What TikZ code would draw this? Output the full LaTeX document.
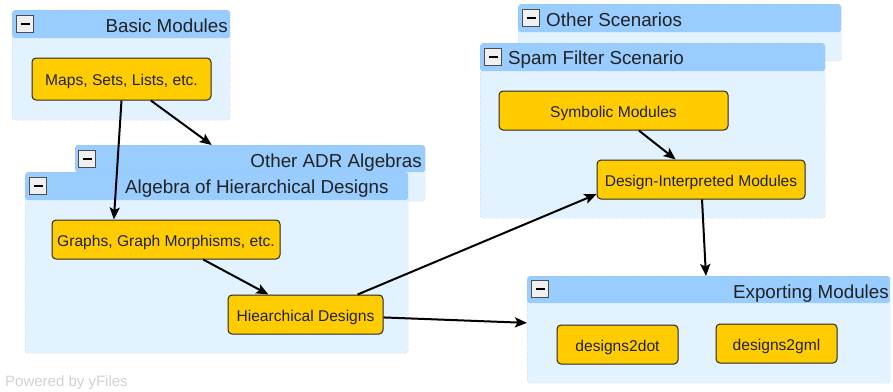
\documentclass[tikz,border=0pt]{standalone}
\usepackage{fontspec}
\setmainfont{Liberation Sans}
\usetikzlibrary{arrows.meta,calc}
\definecolor{hdr}{HTML}{99CCFF}
\definecolor{grpbody}{HTML}{E3F2FF}
\definecolor{modfill}{HTML}{FFCC00}
\definecolor{grpline}{HTML}{9A9A9A}
\definecolor{txt}{HTML}{222222}
\newcommand\mkgroup[6]{%
  \node[grp, minimum width=#4pt, minimum height=#5pt,
    path picture={\fill[hdr] (path picture bounding box.north west) rectangle ([yshift=-#6pt]path picture bounding box.north east);}]
    (#1) at (#2,#3) {};}
\begin{document}
\begin{tikzpicture}[x=1pt,y=-1pt,
  grp/.style={draw=grpline, dotted, fill=grpbody, rounded corners=3pt, inner sep=0pt, anchor=north west},
  btn/.style={draw=gray!60!black, fill=gray!12, minimum size=17pt, inner sep=0pt, line width=0.8pt,
    path picture={\fill[black] ([xshift=-4.5pt,yshift=-1.3pt]path picture bounding box.center) rectangle ([xshift=4.5pt,yshift=1.3pt]path picture bounding box.center);}},
  title/.style={inner sep=0pt, text=txt, font=\fontsize{18.8}{22}\selectfont},
  mod/.style={draw=black!85, fill=modfill, rounded corners=4pt, line width=1pt, text=txt,
    font=\fontsize{15.6}{18}\selectfont, inner sep=0pt, text height=13.5pt, text depth=0pt},
  arr/.style={-{Stealth[length=12pt,width=10pt,inset=2.5pt]}, line width=2pt, black}
]
\fill[white] (0,0) rectangle (893,391);
\useasboundingbox (0,0) rectangle (893,391);

% groups
\mkgroup{basic}{12}{10}{218}{110}{28}
\mkgroup{adr}{75}{145}{350}{56}{27}
\mkgroup{alg}{25}{172}{383}{181}{28}
\mkgroup{other}{518}{4}{323}{57}{28}
\mkgroup{spam}{480}{43}{345}{175}{28}
\mkgroup{export}{527}{276}{363}{107}{27}

% collapse buttons
\node[btn] (basic-btn) at (25,24) {};
\node[btn] (adr-btn) at (87,159) {};
\node[btn] (alg-btn) at (38,186) {};
\node[btn] (other-btn) at (531,18) {};
\node[btn] (spam-btn) at (493,57) {};
\node[btn] (export-btn) at (540,289) {};

% group titles
\node[title, anchor=base east] (basic-title) at (228,32) {Basic Modules};
\node[title, anchor=base east] (adr-title) at (422,167) {Other ADR Algebras};
\node[title, anchor=base west] (alg-title) at (125,193) {Algebra of Hierarchical Designs};
\node[title, anchor=base west] (other-title) at (546,26) {Other Scenarios};
\node[title, anchor=base west] (spam-title) at (508,64) {Spam Filter Scenario};
\node[title, anchor=base east] (export-title) at (889,298) {Exporting Modules};

% modules
\node[mod, minimum width=179pt, minimum height=42pt] (maps) at (121.5,79) {Maps, Sets, Lists, etc.};
\node[mod, minimum width=228pt, minimum height=39pt] (graphs) at (166,239.5) {Graphs, Graph Morphisms, etc.};
\node[mod, minimum width=155pt, minimum height=39pt] (hier) at (305.5,314.5) {Hiearchical Designs};
\node[mod, minimum width=229pt, minimum height=39pt] (symb) at (613.5,110.5) {Symbolic Modules};
\node[mod, minimum width=208pt, minimum height=39pt] (design) at (701,179.5) {Design-Interpreted Modules};
\node[mod, minimum width=121pt, minimum height=39pt] (d2dot) at (617.5,344.5) {designs2dot};
\node[mod, minimum width=121pt, minimum height=39pt] (d2gml) at (776.5,343.5) {designs2gml};

% watermark
\node[anchor=base west, inner sep=0pt, text=gray!35, font=\fontsize{15}{18}\selectfont] (powered) at (5,386) {Powered by yFiles};

% connectors
\draw[arr] (maps.south) -- (graphs.159.8);
\draw[arr] (maps) -- (adr);
\draw[arr] (graphs) -- (hier);
\draw[arr] (hier.21.5) -- (design.188);
\draw[arr] (hier) -- (export);
\draw[arr] (symb) -- (design);
\draw[arr] (design) -- (export);
\end{tikzpicture}
\end{document}
